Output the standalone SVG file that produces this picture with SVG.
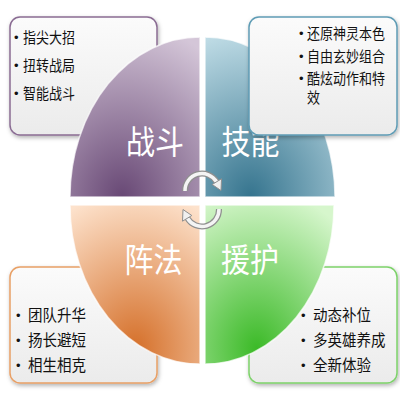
<svg xmlns="http://www.w3.org/2000/svg" width="400" height="400" viewBox="0 0 400 400">
<style>
.box{stroke-width:1.5}
.t{font-family:"Noto Sans CJK SC","Noto Sans",sans-serif;font-size:13px;fill:#111}
.tb{font-family:"Noto Sans CJK SC","Noto Sans",sans-serif;font-size:14.5px;fill:#111}
.bu{font-family:"Liberation Sans",Arial,sans-serif;font-size:13px;fill:#111}
.lab{font-family:"Noto Sans CJK SC","Noto Sans",sans-serif;font-size:29px;fill:#fff;text-anchor:middle}
.q{stroke:#fff;stroke-opacity:0.7;stroke-width:1.5}
</style>
<defs>
<linearGradient id="bg" x1="0" y1="0" x2="0" y2="1"><stop offset="0" stop-color="#fbfbfb"/><stop offset="1" stop-color="#ebebeb"/></linearGradient>
<radialGradient id="gp" cx="0.4" cy="1" r="1.1"><stop offset="0" stop-color="#684875"/><stop offset="1" stop-color="#d4c6d8"/></radialGradient>
<radialGradient id="gt" cx="0.35" cy="1" r="1.1"><stop offset="0" stop-color="#35748e"/><stop offset="1" stop-color="#c6e1ea"/></radialGradient>
<radialGradient id="go" cx="0.5" cy="0.9" r="1"><stop offset="0" stop-color="#d5702a"/><stop offset="1" stop-color="#fde2cc"/></radialGradient>
<radialGradient id="gg" cx="0.4" cy="0.9" r="1"><stop offset="0" stop-color="#3cba28"/><stop offset="1" stop-color="#d6f6cc"/></radialGradient>
<filter id="sh" x="-10%" y="-10%" width="125%" height="130%"><feDropShadow dx="1" dy="2" stdDeviation="2" flood-color="#000" flood-opacity="0.3"/></filter>
</defs>

<g id="box-tl">
<rect class="box" x="10" y="17" width="147" height="118" rx="10" fill="url(#bg)" stroke="#8a6c93" filter="url(#sh)"/>
<text class="bu" x="14" y="42">•</text><text class="t" transform="translate(23,43) scale(1,1.15)">指尖大招</text>
<text class="bu" x="14" y="70">•</text><text class="t" transform="translate(23,71) scale(1,1.15)">扭转战局</text>
<text class="bu" x="14" y="98">•</text><text class="t" transform="translate(23,99) scale(1,1.15)">智能战斗</text>
</g>
<g id="box-bl">
<rect class="box" x="10" y="267" width="147" height="116" rx="10" fill="url(#bg)" stroke="#e8a066" filter="url(#sh)"/>
<text class="bu" x="16" y="320">•</text><text class="tb" transform="translate(28,321) scale(1,1.1)">团队升华</text>
<text class="bu" x="16" y="345">•</text><text class="tb" transform="translate(28,346) scale(1,1.1)">扬长避短</text>
<text class="bu" x="16" y="370">•</text><text class="tb" transform="translate(28,371) scale(1,1.1)">相生相克</text>
</g>
<g id="box-br">
<rect class="box" x="249" y="267" width="148" height="116" rx="10" fill="url(#bg)" stroke="#7dd26a" filter="url(#sh)"/>
<text class="bu" x="301" y="320">•</text><text class="tb" transform="translate(313,321) scale(1,1.1)">动态补位</text>
<text class="bu" x="301" y="345">•</text><text class="tb" transform="translate(313,346) scale(1,1.1)">多英雄养成</text>
<text class="bu" x="301" y="370">•</text><text class="tb" transform="translate(313,371) scale(1,1.1)">全新体验</text>
</g>

<g id="q-zhandou">
<path class="q" d="M200,197 L70,197 A130,160 0 0 1 200,37 Z" fill="url(#gp)"/>
<text class="lab" transform="translate(155,154) scale(1,1.15)">战斗</text>
</g>
<g id="q-jineng">
<path class="q" d="M205,197 L205,37 A130,160 0 0 1 335,197 Z" fill="url(#gt)"/>
<text class="lab" transform="translate(250.5,154) scale(1,1.15)">技能</text>
</g>
<g id="q-zhenfa">
<path class="q" d="M200,205 L200,364 A130,159 0 0 1 70,205 Z" fill="url(#go)"/>
<text class="lab" transform="translate(153.5,272) scale(1,1.15)">阵法</text>
</g>
<g id="q-yuanhu">
<path class="q" d="M205,205 L334,205 A129,159 0 0 1 205,364 Z" fill="url(#gg)"/>
<text class="lab" transform="translate(250,272) scale(1,1.15)">援护</text>
</g>

<g id="box-tr">
<rect class="box" x="249" y="17" width="148" height="118" rx="10" fill="url(#bg)" stroke="#5f9cb5" filter="url(#sh)"/>
<text class="bu" x="299" y="38">•</text><text class="t" transform="translate(307,39) scale(1,1.12)">还原神灵本色</text>
<text class="bu" x="299" y="61">•</text><text class="t" transform="translate(307,62) scale(1,1.12)">自由玄妙组合</text>
<text class="bu" x="299" y="83">•</text><text class="t" transform="translate(307,84) scale(1,1.12)">酷炫动作和特</text>
<text class="t" transform="translate(307,103) scale(1,1.12)">效</text>
</g>

<g id="connectors">
<path d="M185,191 A17,17 0 0 1 216.7,182" fill="none" stroke="#8f8f8f" stroke-width="6"/>
<path d="M185,191 A17,17 0 0 1 216.7,182" fill="none" stroke="#f4f4f4" stroke-width="3.5"/>
<polygon points="221.5,178.8 212.2,184.5 221,190.5" fill="#f0f0f0" stroke="#8f8f8f" stroke-width="1"/>
<path d="M219,209 A17,17 0 0 1 187.3,218" fill="none" stroke="#8f8f8f" stroke-width="6"/>
<path d="M219,209 A17,17 0 0 1 187.3,218" fill="none" stroke="#f4f4f4" stroke-width="3.5"/>
<polygon points="182.5,221.2 191.8,215.5 183,209.5" fill="#f0f0f0" stroke="#8f8f8f" stroke-width="1"/>
</g>
</svg>
